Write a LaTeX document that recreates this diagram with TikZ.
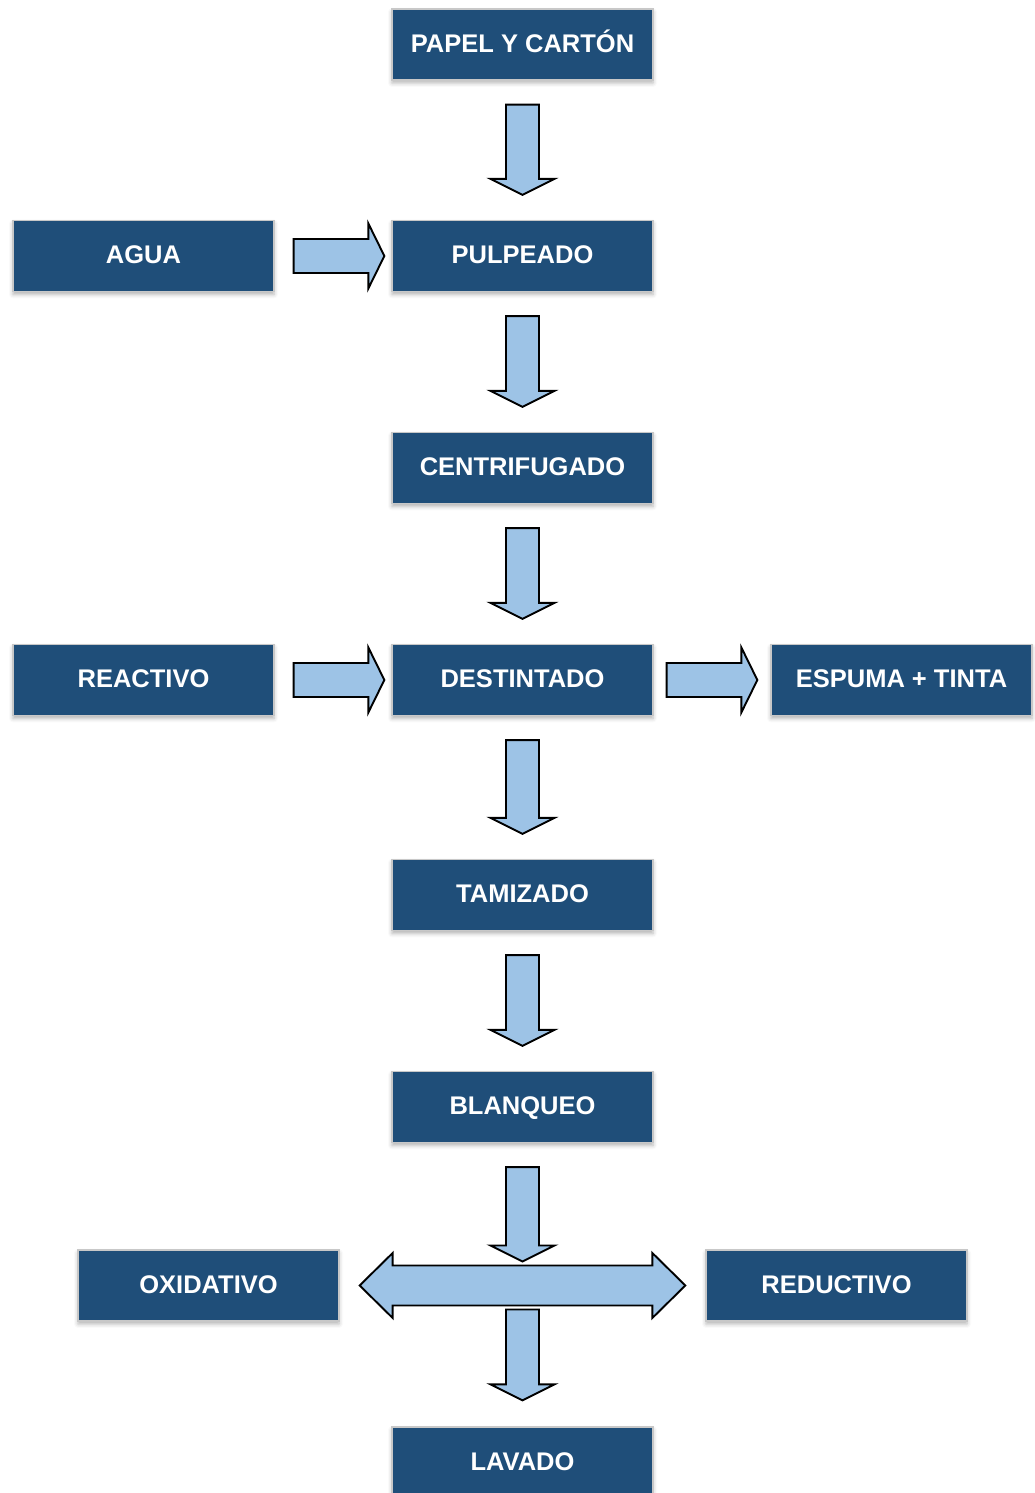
\documentclass[tikz,border=0pt]{standalone}
\usepackage{fontspec}
\setmainfont{Liberation Sans}
\usetikzlibrary{calc,shadows.blur}

\definecolor{boxblue}{HTML}{1F4E79}
\definecolor{boxedge}{HTML}{C8C8C8}
\definecolor{arrowblue}{HTML}{9DC3E6}

\tikzset{
  stage/.style={rectangle, fill=boxblue, draw=boxedge, line width=1.3pt,
    minimum width=261pt, minimum height=71pt, inner sep=0pt,
    text height=15.5pt, text depth=0pt,
    text=white, font=\fontsize{25.5}{30}\selectfont\bfseries,
    blur shadow={shadow xshift=0pt, shadow yshift=-3pt, shadow blur radius=4pt,
      shadow opacity=30, shadow scale=1}},
  blockarrow/.style={fill=arrowblue, draw=black, line width=1.9pt, line join=miter}
}

% vertical block arrow: from top point #1 down to tip #2
\newcommand{\downblock}[2]{%
  \draw[blockarrow] let \p1=(#1), \p2=(#2) in
    (\x1-16.5pt,\y1) -- (\x1+16.5pt,\y1) -- (\x1+16.5pt,\y2+16pt) --
    (\x1+32pt,\y2+16pt) -- (\x1,\y2) -- (\x1-32pt,\y2+16pt) --
    (\x1-16.5pt,\y2+16pt) -- cycle;}

% horizontal block arrow: from tail point #1 right to tip #2
\newcommand{\rightblock}[2]{%
  \draw[blockarrow] let \p1=(#1), \p2=(#2) in
    (\x1,\y1+17pt) -- (\x2-16pt,\y1+17pt) -- (\x2-16pt,\y1+32.5pt) --
    (\x2,\y1) -- (\x2-16pt,\y1-32.5pt) -- (\x2-16pt,\y1-17pt) --
    (\x1,\y1-17pt) -- cycle;}

\begin{document}
\begin{tikzpicture}[x=1pt,y=1pt]
\useasboundingbox (0,0) rectangle (1035,1493);

\node[stage] (papel)    at (522.5,1448.5) {PAPEL Y CARTÓN};
\node[stage] (agua)     at (143.5,1237)   {AGUA};
\node[stage] (pulpeado) at (522.5,1237)   {PULPEADO};
\node[stage] (centri)   at (522.5,1025)   {CENTRIFUGADO};
\node[stage] (reactivo) at (143.5,813)    {REACTIVO};
\node[stage] (destin)   at (522.5,813)    {DESTINTADO};
\node[stage] (espuma)   at (901.5,813)    {ESPUMA + TINTA};
\node[stage] (tamiz)    at (522.5,598)    {TAMIZADO};
\node[stage] (blanqueo) at (522.5,386)    {BLANQUEO};
\node[stage] (oxid)     at (208.5,207.5)  {OXIDATIVO};
\node[stage] (reduct)   at (836.5,207.5)  {REDUCTIVO};
\node[stage] (lavado)   at (522.5,30.5)   {LAVADO};

\coordinate (split) at ($(oxid.east)!0.5!(reduct.west)$);

% main line
\downblock{$(papel.south)+(0,-24)$}{$(pulpeado.north)+(0,25)$}
\downblock{$(pulpeado.south)+(0,-24)$}{$(centri.north)+(0,25)$}
\downblock{$(centri.south)+(0,-24)$}{$(destin.north)+(0,25)$}
\downblock{$(destin.south)+(0,-24)$}{$(tamiz.north)+(0,25)$}
\downblock{$(tamiz.south)+(0,-24)$}{$(blanqueo.north)+(0,25)$}
\downblock{$(blanqueo.south)+(0,-24)$}{$(split)+(0,24)$}
\downblock{$(split)+(0,-24)$}{$(lavado.north)+(0,26)$}

% side inputs and outputs
\rightblock{$(agua.east)+(19,0)$}{$(pulpeado.west)+(-7,0)$}
\rightblock{$(reactivo.east)+(19,0)$}{$(destin.west)+(-7,0)$}
\rightblock{$(destin.east)+(13,0)$}{$(espuma.west)+(-13,0)$}

% two-way split towards the bleaching options
\draw[blockarrow] let \p1=($(oxid.east)+(20,0)$), \p2=($(reduct.west)+(-20,0)$) in
  (\x1,\y1) -- (\x1+33pt,\y1+32.5pt) -- (\x1+33pt,\y1+20pt) --
  (\x2-33pt,\y1+20pt) -- (\x2-33pt,\y1+32.5pt) -- (\x2,\y1) --
  (\x2-33pt,\y1-32.5pt) -- (\x2-33pt,\y1-20pt) -- (\x1+33pt,\y1-20pt) --
  (\x1+33pt,\y1-32.5pt) -- cycle;
\end{tikzpicture}
\end{document}
